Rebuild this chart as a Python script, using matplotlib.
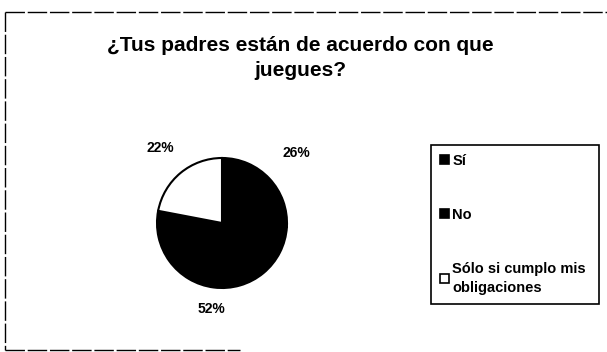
import numpy as np
import matplotlib.pyplot as plt
from matplotlib.lines import Line2D
from matplotlib.patches import Patch

# data
categorias = ["Sí", "No", "Sólo si cumplo mis\nobligaciones"]
porcentajes = [26, 52, 22]
colores = ["#000000", "#000000", "#FFFFFF"]

titulo = "¿Tus padres están de acuerdo con que\njuegues?"

W, H = 607, 352
fig = plt.figure(figsize=(W / 100, H / 100), dpi=100)
fig.patch.set_facecolor("white")

FONT = "Liberation Sans"

# pie axes: centre ~ (222, 223) px, radius ~ 65 px
cx, cy, r = 222, 223, 65
ax = fig.add_axes([(cx - r) / W, (H - cy - r) / H, 2 * r / W, 2 * r / H])
wedges, _ = ax.pie(porcentajes, colors=colores, startangle=90, counterclock=False,
                   wedgeprops=dict(edgecolor="black", linewidth=1.5))
ax.set_xlim(-1, 1)
ax.set_ylim(-1, 1)
ax.set_aspect("equal")
ax.axis("off")

# percentage labels outside the slices
dist = [1.58, 1.33, 1.49]
for w, p, d in zip(wedges, porcentajes, dist):
    ang = np.deg2rad((w.theta1 + w.theta2) / 2)
    ax.text(d * np.cos(ang), d * np.sin(ang), f"{p}%", ha="center", va="center",
            fontsize=10, fontweight="bold", family=FONT, clip_on=False)

# title
fig.text(300 / W, 1 - 58 / H, titulo, ha="center", va="center", fontsize=15,
         fontweight="bold", family=FONT, linespacing=1.45)

# legend
handles = [Patch(facecolor=c, edgecolor="black", linewidth=1.2) for c in colores]
leg = fig.legend(handles, categorias, loc="upper left",
                 bbox_to_anchor=(431 / W, 1 - 145 / H, 168 / W, 0), mode="expand",
                 frameon=True, fancybox=False, edgecolor="black", framealpha=1,
                 handlelength=0.6, handleheight=0.6, handletextpad=0.25,
                 labelspacing=2.75, borderpad=0.6, borderaxespad=0,
                 prop=dict(family=FONT, size=10.5, weight="bold"))
leg.get_frame().set_linewidth(1.2)
for t in leg.get_texts():
    t.set_linespacing(1.45)

# partial dashed outer border
border = dict(color="black", linewidth=1.0, linestyle=(0, (14, 2)),
              transform=fig.transFigure)
fig.add_artist(Line2D([5 / W, 5 / W], [1 - 12 / H, 1 - 350 / H], **border))
fig.add_artist(Line2D([5 / W, 1], [1 - 12 / H, 1 - 12 / H], **border))
fig.add_artist(Line2D([5 / W, 240 / W], [1 - 350 / H, 1 - 350 / H], **border))

fig.savefig("out.png", dpi=100, facecolor="white")
